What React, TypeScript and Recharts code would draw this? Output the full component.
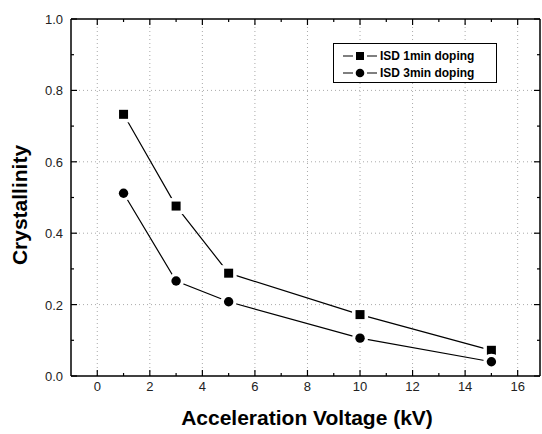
import React from 'react';
import {
  LineChart,
  Line,
  XAxis,
  YAxis,
  ReferenceLine,
  Legend
} from 'recharts';

const voltage = [1, 3, 5, 10, 15];
const isd1min = [0.733, 0.476, 0.288, 0.172, 0.072];
const isd3min = [0.512, 0.266, 0.208, 0.106, 0.04];

const xMajor = [0, 2, 4, 6, 8, 10, 12, 14, 16];
const xAll = [0, 1, 2, 3, 4, 5, 6, 7, 8, 9, 10, 11, 12, 13, 14, 15, 16];
const yMajor = [0, 0.2, 0.4, 0.6, 0.8, 1.0];
const yAll = [0, 0.1, 0.2, 0.3, 0.4, 0.5, 0.6, 0.7, 0.8, 0.9, 1.0];

const data = voltage.map((v, i) => ({ v, a: isd1min[i], b: isd3min[i] }));

const FONT = '"Liberation Sans", Arial, Helvetica, sans-serif';

const isMajorX = (v: number) => xMajor.includes(v);
const isMajorY = (v: number) => yMajor.some((m) => Math.abs(m - v) < 1e-6);

const BottomTick = (props: any) => {
  const { x, y, payload } = props;
  const major = isMajorX(payload.value);
  return (
    <g>
      <line x1={x} y1={y} x2={x} y2={y - (major ? 6 : 3)} stroke="#000" strokeWidth={1.2} />
      {major && (
        <text x={x} y={y + 15} textAnchor="middle" fontSize={13} fontFamily={FONT} fill="#222">
          {payload.value}
        </text>
      )}
    </g>
  );
};

const TopTick = (props: any) => {
  const { x, y, payload } = props;
  const major = isMajorX(payload.value);
  return <line x1={x} y1={y} x2={x} y2={y + (major ? 6 : 3)} stroke="#000" strokeWidth={1.2} />;
};

const LeftTick = (props: any) => {
  const { x, y, payload } = props;
  const major = isMajorY(payload.value);
  return (
    <g>
      <line x1={x} y1={y} x2={x + (major ? 6 : 3)} y2={y} stroke="#000" strokeWidth={1.2} />
      {major && (
        <text x={x - 8} y={y + 5} textAnchor="end" fontSize={13} fontFamily={FONT} fill="#222">
          {payload.value.toFixed(1)}
        </text>
      )}
    </g>
  );
};

const RightTick = (props: any) => {
  const { x, y, payload } = props;
  const major = isMajorY(payload.value);
  return <line x1={x} y1={y} x2={x - (major ? 6 : 3)} y2={y} stroke="#000" strokeWidth={1.2} />;
};

const SquareDot = (props: any) => {
  const { cx, cy } = props;
  return (
    <g>
      <rect x={cx - 8} y={cy - 8} width={16} height={16} fill="#fff" />
      <rect x={cx - 4.5} y={cy - 4.5} width={9} height={9} fill="#000" />
    </g>
  );
};

const CircleDot = (props: any) => {
  const { cx, cy } = props;
  return (
    <g>
      <circle cx={cx} cy={cy} r={8} fill="#fff" />
      <circle cx={cx} cy={cy} r={4.7} fill="#000" />
    </g>
  );
};

const LegendBox = () => (
  <div
    style={{
      border: '1.5px solid #000',
      background: '#fff',
      width: 164,
      height: 40,
      boxSizing: 'border-box',
      padding: '3px 0 0 8px',
      fontFamily: FONT,
      fontWeight: 'bold',
      fontSize: 13,
      lineHeight: '17px'
    }}
  >
    {[
      { name: 'ISD 1min doping', shape: 'square' },
      { name: 'ISD 3min doping', shape: 'circle' }
    ].map((e) => (
      <div key={e.name} style={{ display: 'flex', alignItems: 'center', height: 17 }}>
        <svg width={36} height={12} style={{ marginRight: 2 }}>
          <line x1={1} y1={6} x2={35} y2={6} stroke="#000" strokeWidth={1.2} />
          <rect x={11} y={0} width={14} height={12} fill="#fff" />
          {e.shape === 'square' ? (
            <rect x={14} y={2} width={8} height={8} fill="#000" />
          ) : (
            <circle cx={18} cy={6} r={4.3} fill="#000" />
          )}
        </svg>
        <span style={{ display: 'inline-block', transform: 'scaleX(0.92)', transformOrigin: 'left' }}>
          {e.name}
        </span>
      </div>
    ))}
  </div>
);

const YLabel = () => (
  <text
    x={27}
    y={205}
    transform="rotate(-90 27 205)"
    textAnchor="middle"
    fontSize={21}
    fontWeight="bold"
    fontFamily={FONT}
    fill="#000"
  >
    Crystallinity
  </text>
);

const XLabel = () => (
  <text x={307} y={425} textAnchor="middle" fontSize={21} fontWeight="bold" fontFamily={FONT} fill="#000">
    Acceleration Voltage (kV)
  </text>
);

const App: React.FC = () => {
  return (
    <div style={{ position: 'absolute', left: 0, top: 0, background: '#fff' }}>
      <LineChart
        width={542}
        height={434}
        data={data}
        margin={{ top: 18, right: 1, bottom: 0, left: 0 }}
      >
        {xMajor.map((v) => (
          <ReferenceLine key={'gx' + v} x={v} stroke="#aaa" strokeDasharray="1 3" />
        ))}
        {yMajor.slice(1, -1).map((v) => (
          <ReferenceLine key={'gy' + v} y={v} stroke="#aaa" strokeDasharray="1 3" />
        ))}
        <XAxis
          dataKey="v"
          type="number"
          domain={[-1, 16.85]}
          allowDataOverflow
          ticks={xAll}
          interval={0}
          height={58}
          tickLine={false}
          tickSize={0}
          tickMargin={0}
          axisLine={{ stroke: '#000', strokeWidth: 1.5 }}
          tick={<BottomTick />}
          label={<XLabel />}
        />
        <XAxis
          xAxisId="top"
          dataKey="v"
          orientation="top"
          type="number"
          domain={[-1, 16.85]}
          allowDataOverflow
          ticks={xAll}
          interval={0}
          height={1}
          tickLine={false}
          tickSize={0}
          tickMargin={0}
          axisLine={{ stroke: '#000', strokeWidth: 1.5 }}
          tick={<TopTick />}
        />
        <YAxis
          type="number"
          domain={[0, 1]}
          ticks={yAll}
          interval={0}
          width={71}
          tickLine={false}
          tickSize={0}
          tickMargin={0}
          axisLine={{ stroke: '#000', strokeWidth: 1.5 }}
          tick={<LeftTick />}
          label={<YLabel />}
        />
        <YAxis
          yAxisId="right"
          orientation="right"
          type="number"
          domain={[0, 1]}
          ticks={yAll}
          interval={0}
          width={1}
          tickLine={false}
          tickSize={0}
          tickMargin={0}
          axisLine={{ stroke: '#000', strokeWidth: 1.5 }}
          tick={<RightTick />}
        />
        <Legend
          layout="horizontal"
          verticalAlign="middle"
          content={() => <LegendBox />}
          wrapperStyle={{ left: 333, top: 43, width: 'auto' }}
        />
        <Line
          xAxisId="top"
          yAxisId="right"
          dataKey="a"
          stroke="none"
          dot={false}
          activeDot={false}
          legendType="none"
          isAnimationActive={false}
        />
        <Line
          dataKey="a"
          name="ISD 1min doping"
          stroke="#000"
          strokeWidth={1.2}
          dot={<SquareDot />}
          activeDot={false}
          isAnimationActive={false}
        />
        <Line
          dataKey="b"
          name="ISD 3min doping"
          stroke="#000"
          strokeWidth={1.2}
          dot={<CircleDot />}
          activeDot={false}
          isAnimationActive={false}
        />
      </LineChart>
    </div>
  );
};

export default App;
